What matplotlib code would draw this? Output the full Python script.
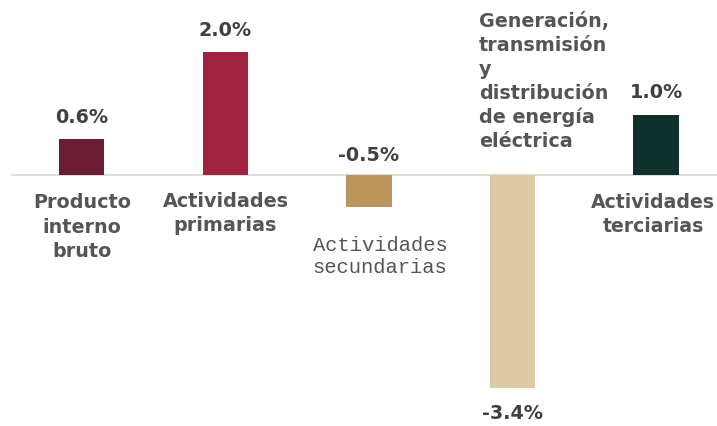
import matplotlib
matplotlib.use("Agg")
import matplotlib.pyplot as plt

categories = ["Producto\ninterno\nbruto", "Actividades\nprimarias", "Actividades\nsecundarias",
              "Generación,\ntransmisión\ny\ndistribución\nde energía\neléctrica", "Actividades\nterciarias"]
values = [0.58, 1.98, -0.52, -3.44, 0.97]
value_labels = ["0.6%", "2.0%", "-0.5%", "-3.4%", "1.0%"]
colors = ["#691C32", "#9F2241", "#BC955C", "#DDC9A3", "#10312B"]

fig = plt.figure(figsize=(7.17, 4.26), dpi=100)
ax = fig.add_axes([0, 0, 1, 1])
ax.set_xlim(-0.571, 4.425)
ax.set_ylim(-4.048, 2.823)
ax.axis("off")

x = list(range(len(values)))
ax.bar(x, values, width=0.314, color=colors, zorder=2)
ax.axhline(0, xmin=12 / 717, xmax=1, color="#dddddd", lw=1.5, zorder=1)

# value labels
for i, (v, lab) in enumerate(zip(values, value_labels)):
    if v >= 0:
        off = 22
        base = v
    elif v > -1:
        off = 20
        base = 0
    else:
        off = -25
        base = v
    ax.annotate(lab, xy=(i, base), xytext=(0, off), textcoords="offset pixels",
                ha="center", va="center", fontsize=13.8, fontweight="bold",
                color="#404040", family="DejaVu Sans")

# category labels
gray = "#555555"
ax.annotate(categories[0], xy=(0, 0), xytext=(0, -52), textcoords="offset pixels",
            ha="center", va="center", multialignment="center", fontsize=13.8,
            fontweight="bold", color=gray, linespacing=1.38)
ax.annotate(categories[1], xy=(1, 0), xytext=(0, -38.5), textcoords="offset pixels",
            ha="center", va="center", multialignment="center", fontsize=13.8,
            fontweight="bold", color=gray, linespacing=1.38)
ax.annotate(categories[2], xy=(2, 0), xytext=(11, -81.5), textcoords="offset pixels",
            ha="center", va="center", multialignment="left", fontsize=14.8,
            color=gray, family="Liberation Mono", linespacing=1.15)
ax.annotate(categories[3], xy=(3, 0), xytext=(-33.5, 93.5), textcoords="offset pixels",
            ha="left", va="center", multialignment="left", fontsize=13.8,
            fontweight="bold", color=gray, linespacing=1.33)
ax.annotate(categories[4], xy=(4, 0), xytext=(-3, -39.5), textcoords="offset pixels",
            ha="center", va="center", multialignment="center", fontsize=13.6,
            fontweight="bold", color=gray, linespacing=1.38)

fig.savefig("out.png", dpi=100, facecolor="white")
